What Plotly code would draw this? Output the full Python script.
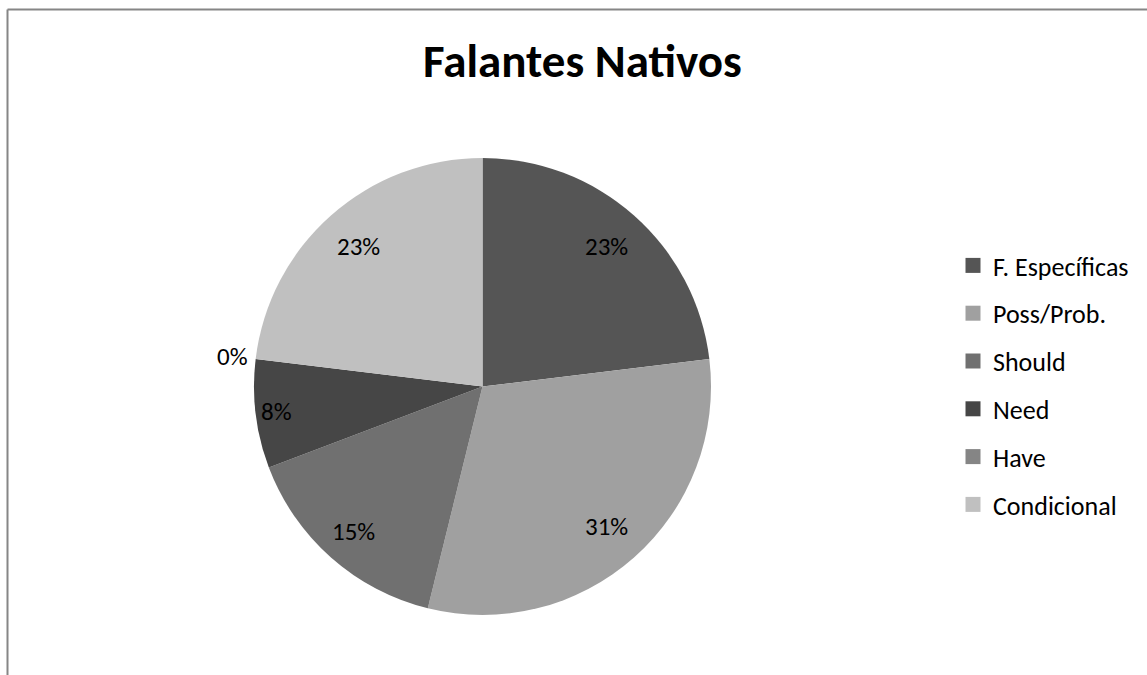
import math
import plotly.graph_objects as go

# ---- data ----
title_text = "Falantes Nativos"
categories = ["F. Específicas", "Poss/Prob.", "Should", "Need", "Have", "Condicional"]
counts = [3, 4, 2, 1, 0, 3]

# ---- styles ----
colors = ["#555555", "#A0A0A0", "#707070", "#464646", "#858585", "#C0C0C0"]
label_radius = [0.82, 0.82, 0.85, 0.91, 1.10, 0.82]  # fraction of pie radius
FONT = "Carlito, Calibri, Lato, sans-serif"

W, H = 1147, 675
cx, cy, R = 482.5, 386.5, 228.5  # pie centre / radius in px

fig = go.Figure()

fig.add_trace(go.Pie(
    labels=categories,
    values=counts,
    sort=False,
    direction="clockwise",
    rotation=0,
    marker=dict(colors=colors, line=dict(width=0)),
    textinfo="none",
    hoverinfo="label+percent",
    showlegend=False,
    domain=dict(x=[(cx - R) / W, (cx + R) / W],
                y=[(H - cy - R) / H, (H - cy + R) / H]),
))

# legend entries (one group per category for spacing)
for i, (lab, col) in enumerate(zip(categories, colors)):
    fig.add_trace(go.Scatter(
        x=[None], y=[None], mode="markers", name=lab,
        marker=dict(symbol="square", size=15, color=col),
        legendgroup=f"g{i}", showlegend=True, hoverinfo="skip",
    ))

# percentage labels computed from the values
total = sum(counts)
cum = 0
annotations = []
for v, rf in zip(counts, label_radius):
    mid = (cum + v / 2) / total * 2 * math.pi
    cum += v
    px = cx + rf * R * math.sin(mid)
    py = cy - rf * R * math.cos(mid)
    annotations.append(dict(
        x=px / W, y=1 - py / H, xref="paper", yref="paper",
        text=f"{round(v / total * 100)}%", showarrow=False,
        font=dict(family=FONT, size=25, color="#000000"),
        xanchor="center", yanchor="middle",
    ))

annotations.append(dict(
    x=583 / W, y=1 - 61 / H, xref="paper", yref="paper",
    text=f"<b>{title_text}</b>", showarrow=False,
    font=dict(family=FONT, size=47, color="#000000"),
    xanchor="center", yanchor="middle",
))

fig.update_layout(
    width=W, height=H,
    margin=dict(l=0, r=0, t=0, b=0),
    paper_bgcolor="white", plot_bgcolor="white",
    xaxis=dict(visible=False), yaxis=dict(visible=False),
    font=dict(family=FONT, color="#000000"),
    annotations=annotations,
    legend=dict(
        x=953 / W, y=1 - 242 / H, xanchor="left", yanchor="top",
        font=dict(family=FONT, size=26, color="#000000"),
        tracegroupgap=11, bgcolor="rgba(0,0,0,0)",
    ),
    shapes=[
        dict(type="line", xref="paper", yref="paper",
             x0=7.5 / W, x1=1.0, y0=1 - 9.5 / H, y1=1 - 9.5 / H,
             line=dict(color="#868686", width=2)),
        dict(type="line", xref="paper", yref="paper",
             x0=7.5 / W, x1=7.5 / W, y0=0, y1=1 - 9.5 / H,
             line=dict(color="#868686", width=2)),
    ],
)

fig.write_html("out.html")
